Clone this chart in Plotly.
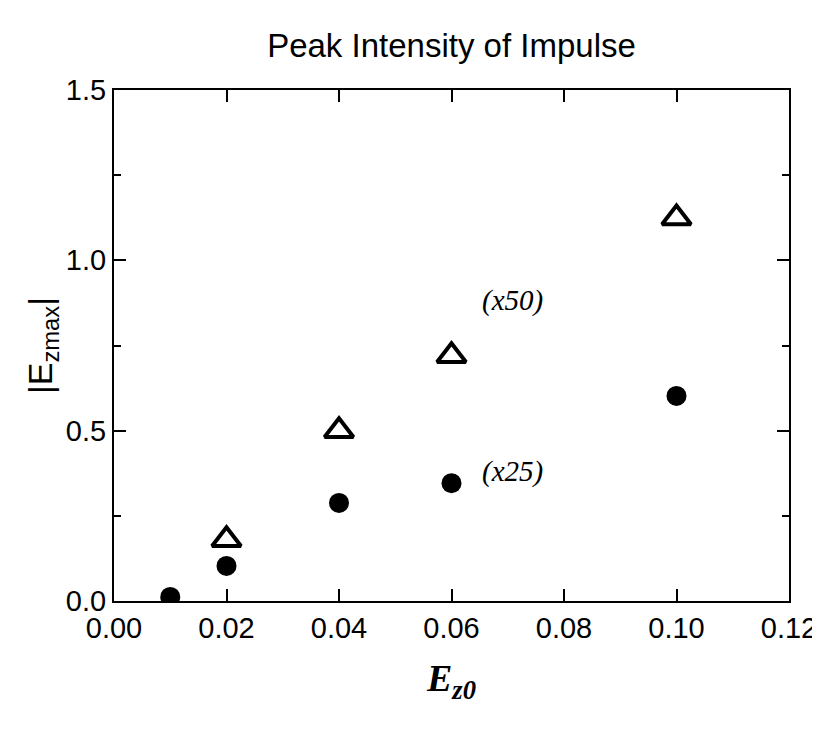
import plotly.graph_objects as go

ez0_circ = [0.01, 0.02, 0.04, 0.06, 0.10]
ezmax_circ = [0.012, 0.103, 0.288, 0.346, 0.602]
ez0_tri = [0.02, 0.04, 0.06, 0.10]
ezmax_tri = [0.18, 0.50, 0.72, 1.124]
xticks = [0.00, 0.02, 0.04, 0.06, 0.08, 0.10, 0.12]
yticks = [0.0, 0.5, 1.0, 1.5]

FONT = "Liberation Sans, Arial, sans-serif"
SERIF = "Liberation Serif, Times New Roman, serif"

fig = go.Figure()
fig.add_trace(go.Scatter(x=ez0_circ, y=ezmax_circ, mode="markers",
                         marker=dict(symbol="circle", size=20, color="black"),
                         showlegend=False))
fig.add_trace(go.Scatter(x=ez0_tri, y=ezmax_tri, mode="markers",
                         marker=dict(symbol="triangle-up-open", size=25, color="black",
                                     line=dict(width=4, color="black")),
                         showlegend=False))

fig.add_annotation(x=0.0709, y=0.883, text="<i>(x50)</i>", showarrow=False,
                   font=dict(family=SERIF, size=29, color="black"))
fig.add_annotation(x=0.0709, y=0.379, text="<i>(x25)</i>", showarrow=False,
                   font=dict(family=SERIF, size=29, color="black"))

axis_common = dict(showline=True, linecolor="black", linewidth=2, mirror="ticks",
                   ticks="inside", ticklen=12, tickwidth=2, tickcolor="black",
                   showgrid=False, zeroline=False, automargin=False,
                   tickfont=dict(family=FONT, size=29, color="black"))

fig.update_xaxes(range=[0, 0.12], tickvals=xticks, ticktext=[f"{v:.2f}" for v in xticks],
                 title=dict(text="<b><i>E<sub>z0</sub></i></b>", font=dict(family=SERIF, size=38, color="black"),
                            standoff=22),
                 **axis_common)
fig.update_yaxes(range=[0, 1.5], tickvals=yticks, ticktext=[f"{v:.1f}" for v in yticks],
                 minor=dict(ticks="inside", ticklen=7, tickwidth=2, tickcolor="black", dtick=0.25, showgrid=False),
                 title=dict(text="|E<sub>zmax</sub>|", font=dict(family=FONT, size=34, color="black"),
                            standoff=3),
                 **axis_common)

fig.update_layout(
    width=820, height=730,
    margin=dict(l=106, r=39, t=82, b=137),
    plot_bgcolor="white", paper_bgcolor="white",
    title=dict(text="Peak Intensity of Impulse", x=0.5, xref="paper", xanchor="center",
               y=0.949, yanchor="middle",
               font=dict(family=FONT, size=33, color="black")),
)

fig.write_html("out.html")
